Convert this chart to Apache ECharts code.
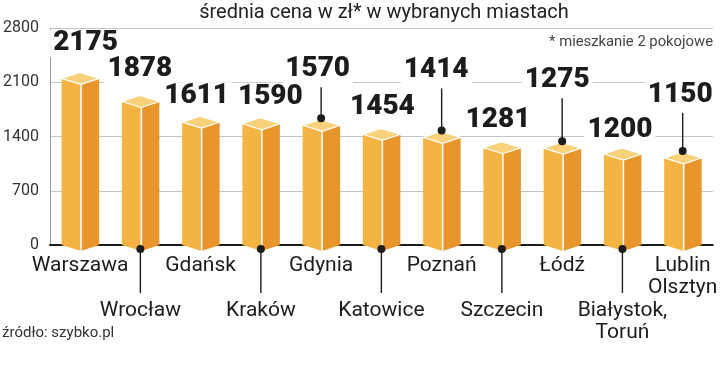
<!DOCTYPE html>
<html>
<head>
<meta charset="utf-8">
<script src="https://cdn.jsdelivr.net/npm/echarts@6/dist/echarts.min.js"></script>
<style>
html,body{margin:0;padding:0;background:#fff;}
#chart{width:720px;height:389px;}
</style>
</head>
<body>
<div id="chart"></div>
<script>
// ---- data ----
var cities = ['Warszawa', 'Wrocław', 'Gdańsk', 'Kraków', 'Gdynia', 'Katowice', 'Poznań', 'Szczecin', 'Łódź', 'Białystok,\nToruń', 'Lublin\nOlsztyn'];
var prices = [2175, 1878, 1611, 1590, 1570, 1454, 1414, 1281, 1275, 1200, 1150];
var yTicks = [0, 700, 1400, 2100, 2800];
var titleText = 'średnia cena w zł* w wybranych miastach';
var noteText = '* mieszkanie 2 pokojowe';
var sourceText = 'źródło: szybko.pl';

// ---- layout (label placement, px) ----
var labelLift = [33, 30, 24, 25, 54, 25, 65, 26, 66, 22, 61];
var labelShift = [5.5, -0.5, -4, 9.5, -3.5, 1, -5.5, -4, -5, -2.5, -2.5];
var hasLeader = [0, 0, 0, 0, 1, 0, 1, 0, 1, 0, 1];

var FRONT = '#F3B443', SIDE = '#E8952B', TOP = '#F9D17A', INK = '#1c1c1c';

function renderItem(params, api) {
  var i = api.value(0), v = api.value(1);
  var p = api.coord([i, v]);
  var b = api.coord([i, 0]);
  var cx = p[0];
  var L = cx - 18.5, M = cx + 1, R = cx + 19;
  var yt = p[1] + 2, yb = b[1];
  var bx = L + R - M;
  var ch = [];
  ch.push({type: 'polygon', shape: {points: [[L, yt], [M, yt + 6], [M, yb + 6], [L, yb]]}, style: {fill: FRONT}});
  ch.push({type: 'polygon', shape: {points: [[M, yt + 6], [R, yt], [R, yb], [M, yb + 6]]}, style: {fill: SIDE}});
  ch.push({type: 'polygon', shape: {points: [[L, yt], [bx, yt - 6], [R, yt], [M, yt + 6]]}, style: {fill: TOP, stroke: '#fff', lineWidth: 1.2}});
  ch.push({type: 'line', shape: {x1: M, y1: yt + 6, x2: M, y2: yb + 6}, style: {stroke: '#fff', lineWidth: 1.5}});
  // value label
  var ly = p[1] - labelLift[i];
  var lx = cx + labelShift[i];
  if (hasLeader[i]) {
    var dy = p[1] - 5;
    ch.push({type: 'line', shape: {x1: cx, y1: ly + 18, x2: cx, y2: dy}, style: {stroke: INK, lineWidth: 1.4}});
    ch.push({type: 'circle', shape: {cx: cx, cy: dy, r: 4}, style: {fill: INK}});
  }
  ch.push({type: 'text', x: lx, y: ly, style: {text: String(v), align: 'center', verticalAlign: 'middle',
    font: '900 28px Roboto', fill: INK, backgroundColor: '#fff', padding: [0, 3]}});
  // bottom leader for second-row category labels
  if (i % 2 === 1) {
    ch.push({type: 'line', shape: {x1: cx, y1: yb + 4, x2: cx, y2: yb + 48}, style: {stroke: INK, lineWidth: 1.4}});
    ch.push({type: 'circle', shape: {cx: cx, cy: yb + 4, r: 4}, style: {fill: INK}});
  }
  return {type: 'group', children: ch};
}

var chart = echarts.init(document.getElementById('chart'), null, {renderer: 'canvas'});
chart.setOption({
  animation: false,
  backgroundColor: '#fff',
  grid: {left: 48, right: 3, top: 28, bottom: 144, containLabel: false},
  xAxis: {
    type: 'category', data: cities,
    axisLine: {show: true, lineStyle: {color: '#1c1c1c', width: 2}},
    axisTick: {show: false},
    axisLabel: {
      interval: 0, margin: 9, color: INK, fontFamily: 'Roboto', fontSize: 21, lineHeight: 22.5,
      formatter: function (val, idx) { return idx % 2 ? '\n\n' + val : val; }
    }
  },
  yAxis: {
    type: 'value', min: yTicks[0], max: yTicks[yTicks.length - 1], interval: yTicks[1] - yTicks[0],
    axisLine: {show: true, lineStyle: {color: '#9a9a9a', width: 1}},
    axisTick: {show: false},
    splitLine: {show: true, lineStyle: {color: '#c4c4c4', width: 1.2}},
    axisLabel: {margin: 11, color: '#333', fontFamily: 'Roboto', fontSize: 16,
      formatter: function (v) { return String(v); }}
  },
  graphic: [
    {type: 'text', x: 384, y: 13, style: {text: titleText, font: '20px Roboto', fill: '#222', align: 'center', verticalAlign: 'middle'}},
    {type: 'text', x: 713, y: 42, style: {text: noteText, font: '14.8px Roboto', fill: '#444', align: 'right', verticalAlign: 'middle'}},
    {type: 'text', x: 2, y: 333, style: {text: sourceText, font: '15px Roboto', fill: '#333', align: 'left', verticalAlign: 'middle'}}
  ],
  series: [{
    type: 'custom', clip: false, renderItem: renderItem,
    encode: {x: 0, y: 1},
    data: prices.map(function (v, i) { return [i, v]; })
  }]
});
</script>
</body>
</html>
